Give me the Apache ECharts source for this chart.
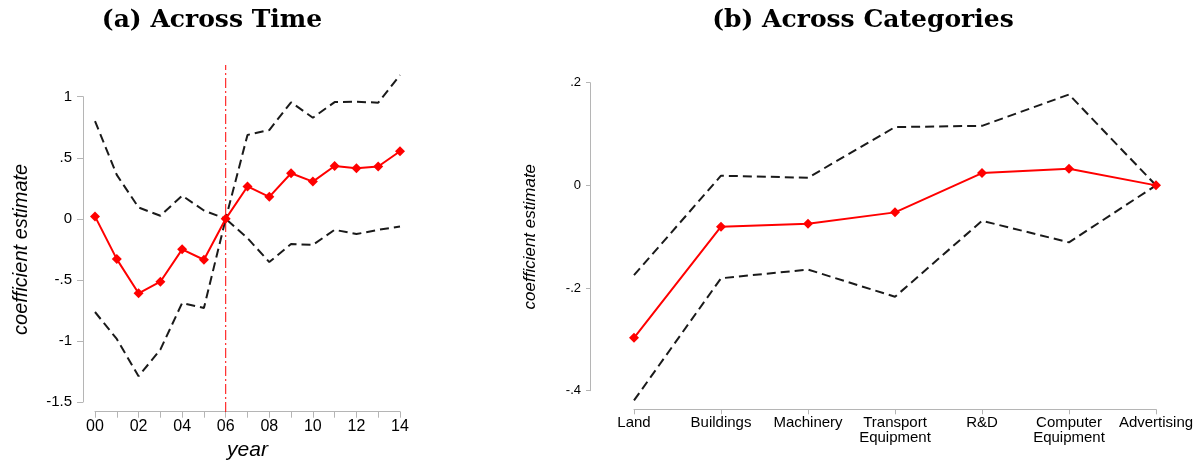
<!DOCTYPE html>
<html>
<head>
<meta charset="utf-8">
<script src="https://cdn.jsdelivr.net/npm/echarts@6/dist/echarts.min.js"></script>
<style>html,body{margin:0;padding:0;background:#fff}#c{width:1203px;height:468px}</style>
</head>
<body>
<div id="c"></div>
<script>
// ---- Panel (a): Across Time ----
var years = ['00','01','02','03','04','05','06','07','08','09','10','11','12','13','14'];
var timeEst   = [0.02, -0.33, -0.61, -0.515, -0.25, -0.335, 0, 0.265, 0.18, 0.373, 0.305, 0.433, 0.414, 0.428, 0.553];
var timeUpper = [0.80, 0.36, 0.093, 0.025, 0.19, 0.068, 0, 0.687, 0.727, 0.954, 0.828, 0.956, 0.959, 0.951, 1.177];
var timeLower = [-0.763, -0.984, -1.289, -1.071, -0.689, -0.730, 0, -0.158, -0.354, -0.207, -0.213, -0.090, -0.125, -0.090, -0.063];
var eventYear = '06';

// ---- Panel (b): Across Categories ----
var categories = ['Land', 'Buildings', 'Machinery', 'Transport\nEquipment', 'R&D', 'Computer\nEquipment', 'Advertising'];
var catEst   = [-0.297, -0.0805, -0.0747, -0.0526, 0.024, 0.0325, 0];
var catUpper = [-0.175, 0.0188, 0.0149, 0.1136, 0.116, 0.177, 0];
var catLower = [-0.419, -0.181, -0.164, -0.217, -0.069, -0.111, 0];

var axisGray = '#b5b5b5';
var sans = '"Liberation Sans", Arial, sans-serif';
function stripZero(v) {
  var s = String(Math.round(v * 100) / 100);
  return s.replace(/^(-?)0\./, '$1.');
}
function dashed(xi, yi, data) {
  return { type: 'line', xAxisIndex: xi, yAxisIndex: yi, data: data, symbol: 'none', clip: false,
    lineStyle: { color: '#1a1a1a', width: 2, type: [9, 5] }, z: 2, silent: true };
}
function est(xi, yi, data) {
  return { type: 'line', xAxisIndex: xi, yAxisIndex: yi, data: data, symbol: 'diamond', symbolSize: 10, clip: false,
    itemStyle: { color: '#ff0000' }, lineStyle: { color: '#ff0000', width: 2 }, z: 4, silent: true };
}

var chart = echarts.init(document.getElementById('c'));
chart.setOption({
  animation: false,
  title: [
    { text: '(a) Across Time', left: 207, top: 3, textAlign: 'center',
      textStyle: { fontFamily: '"DejaVu Serif", serif', fontWeight: 'bold', fontSize: 25, color: '#000' } },
    { text: '(b) Across Categories', left: 858, top: 3, textAlign: 'center',
      textStyle: { fontFamily: '"DejaVu Serif", serif', fontWeight: 'bold', fontSize: 25, color: '#000' } }
  ],
  grid: [
    { left: 95, top: 96.7, width: 305, height: 305.3 },
    { left: 634, top: 82.7, width: 522, height: 308 },
    { left: 95, top: 65, width: 305, height: 347 }
  ],
  xAxis: [
    { type: 'category', gridIndex: 0, data: years, boundaryGap: false, offset: 9.7,
      name: 'year', nameLocation: 'middle', nameGap: 27,
      nameTextStyle: { fontFamily: sans, fontStyle: 'italic', fontSize: 21, color: '#000' },
      axisLine: { onZero: false, lineStyle: { color: axisGray, width: 1 } },
      axisTick: { show: true, interval: 0, length: 6, lineStyle: { color: axisGray } },
      axisLabel: { interval: 1, margin: 7, fontFamily: sans, fontSize: 16, color: '#000' },
      splitLine: { show: false } },
    { type: 'category', gridIndex: 1, data: categories, boundaryGap: false, offset: 18.6,
      axisLine: { onZero: false, lineStyle: { color: axisGray, width: 1 } },
      axisTick: { show: true, interval: 0, length: 5, lineStyle: { color: axisGray } },
      axisLabel: { interval: 0, margin: 6, fontFamily: sans, fontSize: 15, lineHeight: 15, color: '#000' },
      splitLine: { show: false } },
    { type: 'category', gridIndex: 2, data: years, boundaryGap: false, show: false }
  ],
  yAxis: [
    { type: 'value', gridIndex: 0, min: -1.5, max: 1, interval: 0.5, offset: 12,
      name: 'coefficient estimate', nameLocation: 'middle', nameGap: 52,
      nameTextStyle: { fontFamily: sans, fontStyle: 'italic', fontSize: 20, color: '#000' },
      axisLine: { show: true, onZero: false, lineStyle: { color: axisGray, width: 1 } },
      axisTick: { show: true, length: 6, lineStyle: { color: axisGray } },
      axisLabel: { margin: 11, fontFamily: sans, fontSize: 15, color: '#000', formatter: stripZero },
      splitLine: { show: false } },
    { type: 'value', gridIndex: 1, min: -0.4, max: 0.2, interval: 0.2, offset: 44,
      name: 'coefficient estimate', nameLocation: 'middle', nameGap: 51,
      nameTextStyle: { fontFamily: sans, fontStyle: 'italic', fontSize: 17, color: '#000' },
      axisLine: { show: true, onZero: false, lineStyle: { color: axisGray, width: 1 } },
      axisTick: { show: true, length: 4, lineStyle: { color: axisGray } },
      axisLabel: { margin: 9, fontFamily: sans, fontSize: 13, color: '#000', formatter: stripZero },
      splitLine: { show: false } },
    { type: 'value', gridIndex: 2, min: 0, max: 1, show: false }
  ],
  series: [
    { type: 'line', xAxisIndex: 2, yAxisIndex: 2, data: [[eventYear, 0], [eventYear, 1]], symbol: 'none',
      lineStyle: { color: '#ff0000', width: 1, type: [10, 3, 2, 3] }, z: 1, silent: true },
    dashed(0, 0, timeUpper),
    dashed(0, 0, timeLower),
    est(0, 0, timeEst),
    dashed(1, 1, catUpper),
    dashed(1, 1, catLower),
    est(1, 1, catEst)
  ]
});
</script>
</body>
</html>
